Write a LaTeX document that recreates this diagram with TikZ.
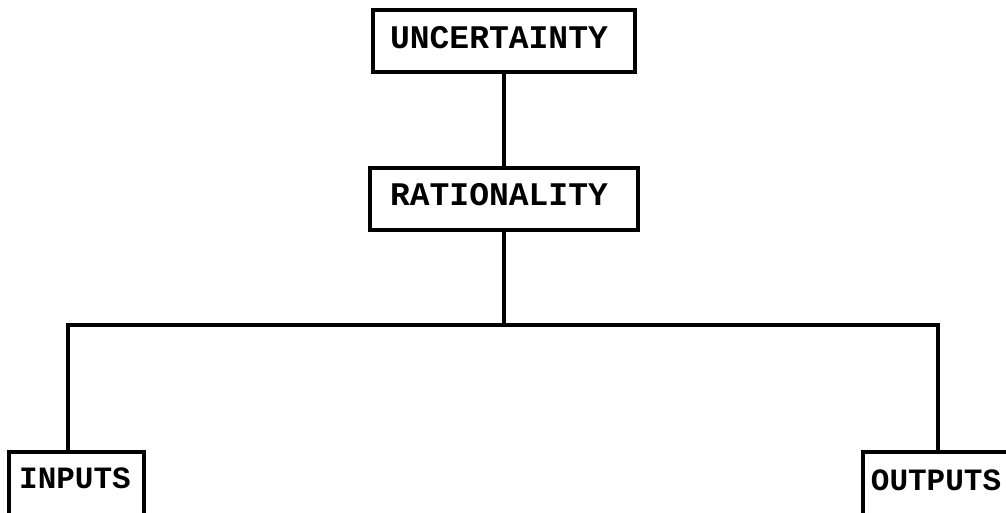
\documentclass[tikz,border=0pt]{standalone}
\usepackage{fontspec}
\newfontfamily\boxfont{Liberation Mono}[BoldFont={* Bold}]
\begin{document}
\begin{tikzpicture}[x=1pt,y=-1pt,line width=3.2pt,
  box/.style={draw=black,rectangle,inner sep=0pt,line join=miter},
  toplabel/.style={font=\boxfont\bfseries\fontsize{33}{33}\selectfont},
  botlabel/.style={font=\boxfont\bfseries\fontsize{31}{31}\selectfont}]
\useasboundingbox (0,0) rectangle (1006,513);
\clip (0,0) rectangle (1006,513);
\node[box,minimum width=262pt,minimum height=62pt] (unc) at (504,41) {};
\node[toplabel] (unct) at (499,38) {UNCERTAINTY};
\node[box,minimum width=268pt,minimum height=62pt] (rat) at (504,199) {};
\node[toplabel] (ratt) at (499,195) {RATIONALITY};
\node[box,minimum width=135pt,minimum height=80pt] (in) at (76.5,492) {};
\node[botlabel] (int) at (75,478) {INPUTS};
\node[box,minimum width=150pt,minimum height=80pt] (out) at (938,492) {};
\node[botlabel] (outt) at (936,480) {OUTPUTS};
\coordinate (j) at (504,325);
\draw (unc.south) -- (rat.north);
\draw (rat.south) -- (j);
\draw (j) -| ([xshift=-8.5pt]in.north);
\draw (j) -| (out.north);
\end{tikzpicture}
\end{document}
